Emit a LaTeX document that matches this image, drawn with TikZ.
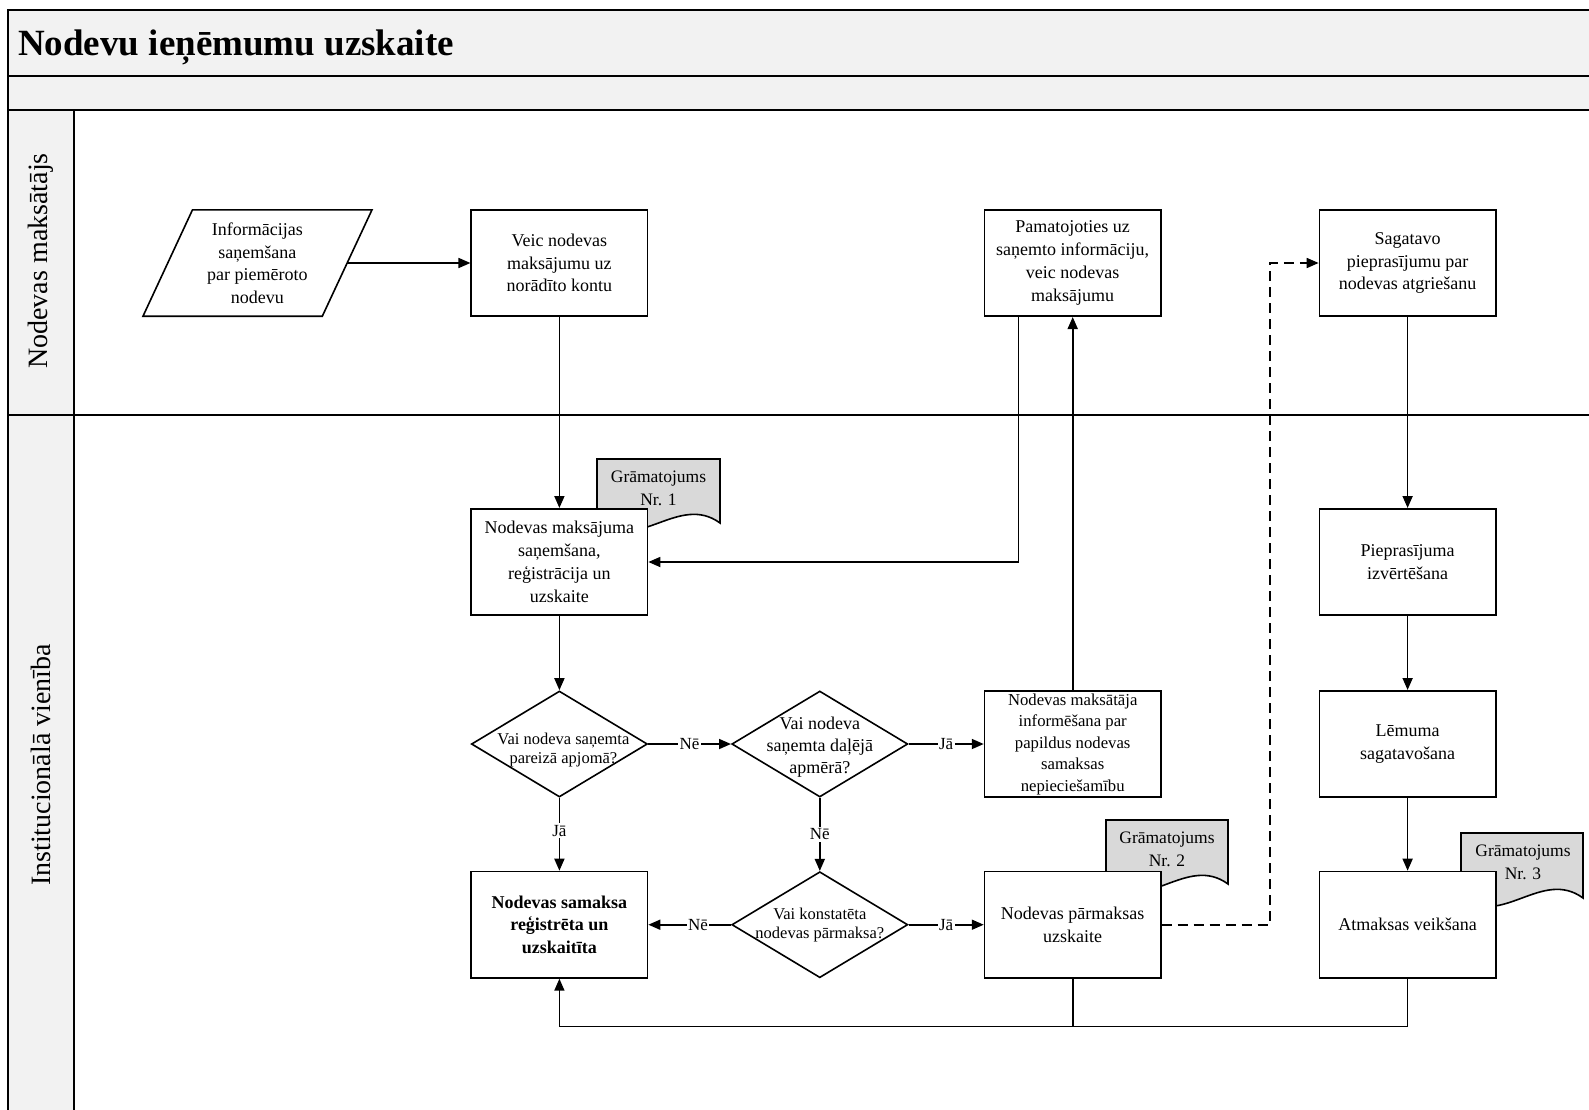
\documentclass[tikz,border=0pt]{standalone}
\usepackage{fontspec}
\setmainfont{Liberation Serif}
\usetikzlibrary{shapes.geometric,arrows.meta}
\definecolor{band}{HTML}{F2F2F2}
\definecolor{docgray}{HTML}{D9D9D9}
\begin{document}
\begin{tikzpicture}[x=1pt,y=-1pt,
  box/.style={draw,fill=white,line width=1.6pt,minimum width=176.3pt,minimum height=106.4pt,inner sep=0pt,align=center,font=\fontsize{18}{22.8}\selectfont},
  dia/.style={diamond,draw,fill=white,line width=1.6pt,minimum width=176pt,minimum height=106pt,inner sep=0pt},
  dtext/.style={align=center,inner sep=0pt,font=\fontsize{16.5}{19}\selectfont},
  arr/.style={line width=1.7pt,-{Triangle[length=12pt,width=10pt]}},
  plain/.style={line width=1.7pt},
  lbl/.style={fill=white,inner sep=1.5pt,font=\fontsize{17}{20}\selectfont},
  docst/.style={draw,fill=docgray,line width=1.6pt},
  doctext/.style={align=center,inner sep=0pt,font=\fontsize{17.5}{22.8}\selectfont},
  frame/.style={line width=2pt},
  lanetext/.style={rotate=90,inner sep=0pt,font=\fontsize{28}{30}\selectfont}]
\useasboundingbox (0,0) rectangle (1589,1109);
% frame
\fill[band] (8,10) rectangle (1600,110);
\fill[band] (8,110) rectangle (74,1120);
\draw[frame] (1600,10) -- (8,10) -- (8,1120);
\draw[frame] (8,76) -- (1600,76);
\draw[frame] (8,110) -- (1600,110);
\draw[frame] (8,415) -- (1600,415);
\draw[frame] (74,110) -- (74,1120);
\node[anchor=base west,inner sep=0pt,font=\fontsize{37}{40}\selectfont\bfseries] (title) at (18,55) {Nodevu ieņēmumu uzskaite};
\node[lanetext] (lane1) at (40.5,261) {Nodevas maksātājs};
\node[lanetext] (lane2) at (40.5,765) {Institucionālā vienība};
% documents (behind boxes)
\draw[docst] (597,459) -- (720,459) -- (720,523) .. controls (679,493) and (638,553) .. (597,523) -- cycle;
\draw[docst] (1106,820) -- (1228,820) -- (1228,884) .. controls (1187,854) and (1147,914) .. (1106,884) -- cycle;
\draw[docst] (1461,833) -- (1583,833) -- (1583,898) .. controls (1542,868) and (1502,928) .. (1461,898) -- cycle;
\node[doctext] (g1) at (658.5,488) {Grāmatojums\\Nr. 1};
\node[doctext] (g2) at (1167,849) {Grāmatojums\\Nr. 2};
\node[doctext] (g3) at (1523,862) {Grāmatojums\\Nr. 3};
% input parallelogram
\draw[line width=1.6pt,fill=white] (143,316.2) -- (322.3,316.2) -- (372,209.8) -- (192.5,209.8) -- cycle;
\node[align=center,inner sep=0pt,font=\fontsize{18}{22.5}\selectfont] (p) at (257.4,263) {Informācijas\\saņemšana\\par piemēroto\\nodevu};
\coordinate (pr) at (347.2,263);
% nodes
\node[box] (b2) at (559.4,263) {Veic nodevas\\maksājumu uz\\norādīto kontu};
\node[box] (b3) at (1072.7,263) {Pamatojoties uz\\saņemto informāciju,\\veic nodevas\\maksājumu};
\node[box] (b4) at (1407.6,263) {Sagatavo\\pieprasījumu par\\nodevas atgriešanu};
\node[box] (b5) at (559.4,562) {Nodevas maksājuma\\saņemšana,\\reģistrācija un\\uzskaite};
\node[box] (b14) at (1407.6,562) {Pieprasījuma\\izvērtēšana};
\node[dia] (d7) at (559.4,744) {};
\node[dtext] (t7) at ([xshift=4pt,yshift=-6pt]d7.center) {Vai nodeva saņemta\\pareizā apjomā?};
\node[dia] (d8) at (819.8,744) {};
\node[dtext,font=\fontsize{18}{21.8}\selectfont] (t8) at ([yshift=-3pt]d8.center) {Vai nodeva\\saņemta daļējā\\apmērā?};
\node[box,font=\fontsize{16.7}{21.5}\selectfont] (b9) at (1072.7,744) {Nodevas maksātāja\\informēšana par\\papildus nodevas\\samaksas\\nepieciešamību};
\node[box] (b15) at (1407.6,744) {Lēmuma\\sagatavošana};
\node[box,font=\fontsize{18}{22.8}\selectfont\bfseries] (b10) at (559.4,924.7) {Nodevas samaksa\\reģistrēta un\\uzskaitīta};
\node[dia] (d11) at (819.8,924.7) {};
\node[dtext] (t11) at (d11) {Vai konstatēta\\nodevas pārmaksa?};
\node[box] (b12) at (1072.7,924.7) {Nodevas pārmaksas\\uzskaite};
\node[box] (b16) at (1407.6,924.7) {Atmaksas veikšana};
\coordinate (dk) at (1269.8,263);
\coordinate (low) at (0,1026.6);
% connectors
\draw[arr] (pr) -- (b2);
\draw[arr] (b2) -- (b5);
\draw[arr] ([xshift=-54.2pt]b3.south) |- (b5.east);
\draw[arr] (b9) -- (b3);
\draw[arr] (b5) -- (d7);
\draw[arr] (d7) -- node[lbl]{Nē} (d8);
\draw[arr] (d8) -- node[lbl]{Jā} (b9);
\draw[arr] (d7) -- node[lbl,pos=0.45]{Jā} (b10);
\draw[arr] (d8) -- node[lbl]{Nē} (d11);
\draw[arr] (d11) -- node[lbl,pos=0.4]{Nē} (b10);
\draw[arr] (d11) -- node[lbl]{Jā} (b12);
\draw[arr,dash pattern=on 10pt off 6pt] (b12.east) -| (dk) -- (b4.west);
\draw[arr] (b4) -- (b14);
\draw[arr] (b14) -- (b15);
\draw[arr] (b15) -- (b16);
\draw[arr] (b16.south) -- (b16.south |- low) -| (b10.south);
\draw[plain] (b12.south) -- (b12.south |- low);
\end{tikzpicture}
\end{document}
